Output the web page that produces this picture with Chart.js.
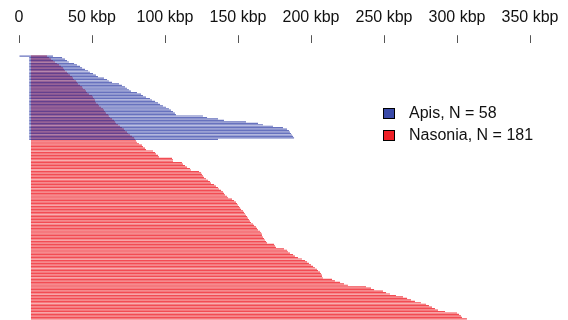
<!DOCTYPE html>
<html>
<head>
<meta charset="utf-8">
<script src="https://cdn.jsdelivr.net/npm/chart.js@4/dist/chart.umd.min.js"></script>
<style>
  html, body { margin: 0; padding: 0; background: #fff; }
  #wrap { position: relative; width: 568px; height: 320px; }
  #legend { position: absolute; left: 383px; top: 102px; font-family: "Liberation Sans", Arial, sans-serif; font-size: 16px; color: #111; }
  #legend .row { height: 22px; line-height: 22px; white-space: nowrap; }
  #legend .box { display: inline-block; width: 10px; height: 9px; border: 1px solid #000; margin-right: 14px; vertical-align: -1px; }
</style>
</head>
<body>
<div id="wrap">
  <canvas id="c" width="568" height="320"></canvas>
  <div id="legend"></div>
</div>
<script>
// Contig extents in kbp, one row per contig, longest at the bottom
const seriesNames = ['Apis, N = 58', 'Nasonia, N = 181'];
const seriesColors = ['rgba(45,60,165,0.72)', 'rgba(238,25,35,0.78)'];
const legendColors = ['#3a4aa8', '#ee2027'];
const tickLabels = ['0', '50 kbp', '100 kbp', '150 kbp', '200 kbp', '250 kbp', '300 kbp', '350 kbp'];

const apisStart = [0, 7, 7, 7, 7, 7, 7, 7, 7, 7, 7, 7, 7, 7, 7, 7, 7, 7, 7, 7,
  7, 7, 7, 7, 7, 7, 7, 7, 7, 7, 7, 7, 7, 7, 7, 7, 7, 7, 7, 7,
  7, 7, 7, 7, 7, 7, 7, 7, 7, 7, 7, 7, 7, 7, 7, 7, 7, 7];
const apisEnd = [23.3, 29.5, 31.5, 32.9, 34.2, 37.7, 39.7, 41.8, 43.2, 45.2,
  47.3, 48.6, 50.7, 52.7, 54.1, 58.2, 60.3, 61.6, 63.7, 68.5,
  70.5, 72.6, 74.0, 75.3, 76.7, 80.8, 83.6, 84.9, 87.0, 89.7,
  91.1, 93.2, 95.2, 96.6, 98.6, 100.7, 102.7, 104.1, 105.5, 106.8,
  107.5, 126.0, 128.8, 136.3, 140.4, 155.5, 163.7, 167.1, 174.0, 180.8,
  183.6, 184.9, 185.6, 186.3, 187.0, 187.7, 188.4, 136.3];

const nasoniaStart = 8.2;
const nasoniaEnd = [19.2, 20.5, 21.9, 23.3, 24.7, 26.0, 27.4, 28.8, 30.1, 30.8,
  31.5, 32.9, 33.6, 34.9, 36.3, 37.0, 37.7, 39.0, 39.7, 40.4,
  41.8, 43.2, 43.8, 45.2, 45.9, 46.6, 47.9, 50.0, 50.7, 51.4,
  52.1, 52.1, 52.7, 54.1, 54.8, 56.2, 57.5, 58.2, 58.9, 59.6,
  61.0, 61.6, 62.3, 63.7, 65.1, 65.8, 66.4, 67.8, 69.2, 70.5,
  71.9, 72.6, 74.0, 74.7, 76.0, 77.4, 78.8, 79.5, 80.1, 80.8,
  82.2, 84.2, 84.9, 86.3, 87.0, 91.8, 93.2, 93.8, 95.2, 95.9,
  104.8, 105.5, 105.5, 111.6, 112.3, 113.7, 115.1, 117.1, 117.8, 123.3,
  124.7, 125.3, 126.0, 126.7, 128.1, 129.5, 130.8, 131.5, 133.6, 134.9,
  136.3, 137.0, 138.4, 139.7, 140.4, 141.1, 142.5, 143.2, 145.9, 147.3,
  148.6, 149.3, 150.0, 150.7, 151.4, 152.1, 153.4, 154.1, 154.8, 155.5,
  156.2, 156.8, 157.5, 158.2, 158.9, 160.3, 161.0, 162.3, 163.0, 163.7,
  165.1, 165.8, 166.4, 166.4, 167.1, 167.8, 168.5, 169.2, 169.9, 174.7,
  175.3, 176.0, 181.5, 183.6, 184.2, 185.6, 187.7, 189.0, 191.1, 193.8,
  195.9, 197.3, 198.6, 200.0, 201.4, 202.7, 204.1, 204.8, 206.2, 206.8,
  207.5, 207.5, 208.2, 214.4, 216.4, 219.9, 222.6, 225.3, 237.7, 241.1,
  243.2, 249.3, 251.4, 254.1, 258.2, 263.0, 265.8, 268.5, 271.2, 275.3,
  278.8, 280.8, 282.9, 284.9, 287.0, 291.8, 300.0, 301.4, 302.7, 303.4,
  306.8];

const apisData = apisEnd.map((e, i) => ({ x: [apisStart[i], e], y: i }));
const nasoniaData = nasoniaEnd.map((e, i) => ({ x: [nasoniaStart, e], y: i }));

new Chart(document.getElementById('c'), {
  type: 'bar',
  data: {
    datasets: [
      { label: seriesNames[0], data: apisData, backgroundColor: seriesColors[0], borderWidth: 0, grouped: false, barPercentage: 0.8, categoryPercentage: 1 },
      { label: seriesNames[1], data: nasoniaData, backgroundColor: seriesColors[1], borderWidth: 0, grouped: false, barPercentage: 0.8, categoryPercentage: 1 }
    ]
  },
  options: {
    indexAxis: 'y',
    responsive: false,
    animation: false,
    layout: { padding: { left: 19, right: 38, top: 0, bottom: 0 } },
    plugins: { legend: { display: false }, tooltip: { enabled: false } },
    scales: {
      x: {
        type: 'linear',
        position: 'top',
        min: 0,
        max: 350,
        offset: false,
        border: { display: false },
        grid: { drawOnChartArea: false, drawTicks: true, tickLength: 8, color: '#555', lineWidth: 1, offset: false },
        ticks: {
          stepSize: 50,
          padding: 8,
          color: '#111',
          font: { family: '"Liberation Sans", Arial, sans-serif', size: 16 },
          maxRotation: 0,
          callback: (v, i) => tickLabels[i]
        }
      },
      y: {
        type: 'linear',
        reverse: true,
        offset: false,
        min: -8.9,
        max: 180.8,
        display: false
      }
    }
  }
});

// Legend
const legend = document.getElementById('legend');
seriesNames.forEach((name, i) => {
  const row = document.createElement('div');
  row.className = 'row';
  const box = document.createElement('span');
  box.className = 'box';
  box.style.background = legendColors[i];
  row.appendChild(box);
  row.appendChild(document.createTextNode(name));
  legend.appendChild(row);
});
</script>
</body>
</html>
